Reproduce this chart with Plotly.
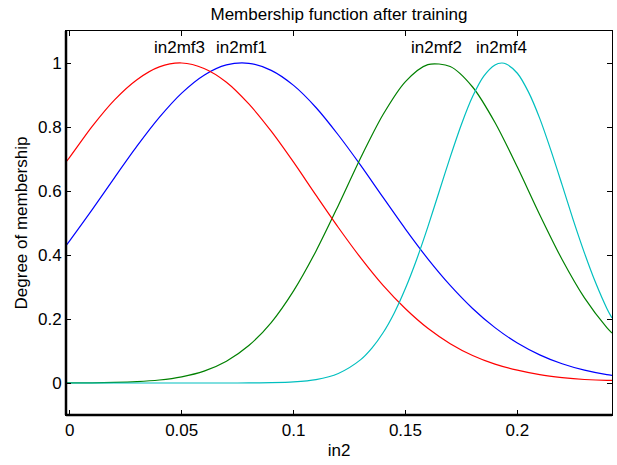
import plotly.graph_objects as go

# Input variable "in2" sample positions
x_grid = [-0.0017, 0.0, 0.01, 0.02, 0.03, 0.04, 0.05, 0.06, 0.07, 0.08, 0.09,
          0.10, 0.11, 0.12, 0.13, 0.14, 0.15, 0.16, 0.17, 0.18, 0.19, 0.20,
          0.21, 0.22, 0.23, 0.24, 0.2423]

# Membership degrees of the trained input MFs
in2mf1 = [0.429, 0.445, 0.542, 0.642, 0.740, 0.830, 0.906, 0.962, 0.994, 0.999,
          0.977, 0.930, 0.861, 0.775, 0.680, 0.580, 0.481, 0.388, 0.305, 0.233,
          0.173, 0.125, 0.088, 0.060, 0.040, 0.026, 0.024]
in2mf2 = [0.0002, 0.0003, 0.0007, 0.0018, 0.0043, 0.0094, 0.0193, 0.037, 0.068,
          0.117, 0.189, 0.288, 0.412, 0.555, 0.704, 0.839, 0.942, 0.995, 0.989,
          0.925, 0.814, 0.675, 0.526, 0.386, 0.266, 0.173, 0.156]
in2mf3 = [0.691, 0.706, 0.802, 0.885, 0.948, 0.988, 1.000, 0.983, 0.940, 0.872,
          0.787, 0.690, 0.587, 0.486, 0.391, 0.305, 0.232, 0.171, 0.123, 0.086,
          0.059, 0.040, 0.026, 0.017, 0.011, 0.008, 0.008]

x_mf4 = [-0.0017, 0.0, 0.02, 0.04, 0.06, 0.07, 0.08, 0.09, 0.10, 0.11, 0.12,
         0.13, 0.135, 0.14, 0.145, 0.15, 0.155, 0.16, 0.165, 0.17, 0.175, 0.18,
         0.185, 0.19, 0.193, 0.195, 0.20, 0.205, 0.21, 0.215, 0.22, 0.225,
         0.23, 0.235, 0.24, 0.2423]
in2mf4 = [0.0, 0.0, 0.0, 0.0, 0.0, 0.0, 0.0002, 0.0009, 0.0034, 0.0107, 0.0299,
          0.073, 0.109, 0.157, 0.219, 0.296, 0.386, 0.488, 0.597, 0.706, 0.808,
          0.895, 0.959, 0.994, 1.000, 0.997, 0.968, 0.909, 0.827, 0.727, 0.619,
          0.509, 0.406, 0.313, 0.233, 0.203]

mf_names = ["in2mf1", "in2mf2", "in2mf3", "in2mf4"]
mf_peaks = [0.0769, 0.164, 0.0492, 0.193]
mf_colors = ["#0000FF", "#008000", "#FF0000", "#00BFBF"]

x_ticks = [0, 0.05, 0.1, 0.15, 0.2]
x_ticktext = ["0", "0.05", "0.1", "0.15", "0.2"]
y_ticks = [0, 0.2, 0.4, 0.6, 0.8, 1]
y_ticktext = ["0", "0.2", "0.4", "0.6", "0.8", "1"]

FONT = "Liberation Sans, Arial, Helvetica, sans-serif"
FS = 17

fig = go.Figure()
series = [(x_grid, in2mf1), (x_grid, in2mf2), (x_grid, in2mf3), (x_mf4, in2mf4)]
for (xs, ys), name, color in zip(series, mf_names, mf_colors):
    fig.add_trace(go.Scatter(
        x=xs, y=ys, mode="lines", name=name,
        line=dict(color=color, width=1.2, shape="spline", smoothing=0.8),
        hoverinfo="skip",
    ))

# MF name above each peak
for name, peak in zip(mf_names, mf_peaks):
    fig.add_annotation(x=peak, y=1.05, text=name, showarrow=False,
                       xanchor="center", yanchor="middle",
                       font=dict(family=FONT, size=FS, color="black"))

axis_common = dict(
    showgrid=False, zeroline=False, showline=True, linecolor="black",
    linewidth=1, mirror="ticks", ticks="inside", ticklen=5,
    tickcolor="black", tickwidth=1,
    tickfont=dict(family=FONT, size=FS, color="black"),
)

fig.update_xaxes(range=[-0.0017, 0.2423], tickvals=x_ticks, ticktext=x_ticktext,
                 title=dict(text="in2", standoff=4,
                            font=dict(family=FONT, size=FS, color="black")),
                 **axis_common)
fig.update_yaxes(range=[-0.1, 1.1], tickvals=y_ticks, ticktext=y_ticktext,
                 title=dict(text="Degree of membership", standoff=6,
                            font=dict(family=FONT, size=FS, color="black")),
                 **axis_common)

# Heavier left and bottom frame edges
fig.add_shape(type="line", xref="paper", yref="paper", x0=0, x1=0, y0=0, y1=1,
              line=dict(color="black", width=2.5), layer="above")
fig.add_shape(type="line", xref="paper", yref="paper", x0=0, x1=1, y0=0, y1=0,
              line=dict(color="black", width=2.5), layer="above")

fig.update_layout(
    width=617, height=465,
    margin=dict(l=66, r=5, t=31, b=50),
    paper_bgcolor="white", plot_bgcolor="white",
    showlegend=False,
    font=dict(family=FONT, size=FS, color="black"),
    title=dict(text="Membership function after training", x=0.5, xref="paper",
               y=1 - 14 / 465, yref="container", yanchor="middle",
               xanchor="center",
               font=dict(family=FONT, size=FS, color="black")),
)

fig.write_html("out.html")
